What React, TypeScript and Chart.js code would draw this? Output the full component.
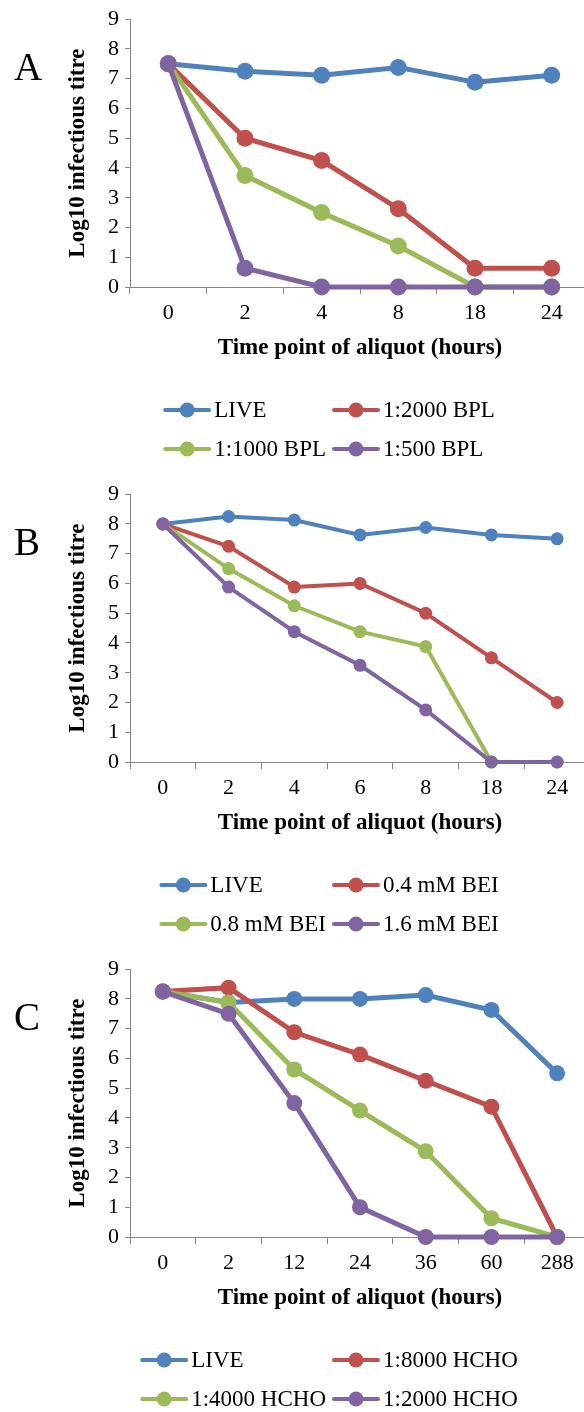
import React, { useEffect, useRef } from 'react';
import { Chart, registerables } from 'chart.js';

Chart.register(...registerables);

// ---------- DATA ----------
const seriesColors = ['#4F81BD', '#C0504D', '#9BBB59', '#8064A2'];
const yMin = 0;
const yMax = 9;

// Panel A (BPL)
const catsA = ['0', '2', '4', '8', '18', '24'];
const labelsA = ['LIVE', '1:2000 BPL', '1:1000 BPL', '1:500 BPL'];
const liveA = [7.5, 7.25, 7.12, 7.38, 6.88, 7.12];
const bpl2000A = [7.5, 5.0, 4.25, 2.63, 0.63, 0.63];
const bpl1000A = [7.5, 3.75, 2.5, 1.38, 0, 0];
const bpl500A = [7.5, 0.63, 0, 0, 0, 0];

// Panel B (BEI)
const catsB = ['0', '2', '4', '6', '8', '18', '24'];
const labelsB = ['LIVE', '0.4 mM BEI', '0.8 mM BEI', '1.6 mM BEI'];
const liveB = [8.0, 8.25, 8.13, 7.63, 7.88, 7.63, 7.5];
const bei04B = [8.0, 7.25, 5.88, 6.0, 5.0, 3.5, 2.0];
const bei08B = [8.0, 6.5, 5.25, 4.38, 3.88, 0, 0];
const bei16B = [8.0, 5.88, 4.38, 3.25, 1.75, 0, 0];

// Panel C (HCHO)
const catsC = ['0', '2', '12', '24', '36', '60', '288'];
const labelsC = ['LIVE', '1:8000 HCHO', '1:4000 HCHO', '1:2000 HCHO'];
const liveC = [8.25, 7.88, 8.0, 8.0, 8.13, 7.63, 5.5];
const hcho8000C = [8.25, 8.38, 6.88, 6.13, 5.25, 4.38, 0];
const hcho4000C = [8.25, 7.88, 5.63, 4.25, 2.88, 0.63, 0];
const hcho2000C = [8.25, 7.5, 4.5, 1.0, 0, 0, 0];

const yTitle = 'Log10 infectious titre';
const xTitle = 'Time point of aliquot (hours)';

// ---------- LAYOUT CONSTANTS ----------
const FONT = "'Liberation Serif', 'Times New Roman', serif";
const CANVAS_W = 600;
const CANVAS_H = 475;
const AREA_LEFT = 130;
const AREA_TOP = 16;
const AREA_BOTTOM = 287;
const AREA_RIGHT = 590;
const AXIS_GRAY = '#868686';

const decorPlugin = {
  id: 'panelDecor',
  afterDraw(chart: any, _args: any, opts: any) {
    const ctx = chart.ctx;
    ctx.save();
    // panel letter
    ctx.fillStyle = '#000';
    ctx.font = `39px ${FONT}`;
    ctx.textAlign = 'left';
    ctx.textBaseline = 'alphabetic';
    ctx.fillText(opts.letter, 14, 80);

    // legend (2 columns, Excel-like)
    const ds = chart.data.datasets;
    ctx.font = `23px ${FONT}`;
    const tw = (i: number) => ctx.measureText(ds[i].label).width;
    const symW = 48;
    const symGap = 3;
    const colGap = 6;
    const c1w = symW + symGap + Math.max(tw(0), tw(2));
    const c2w = symW + symGap + Math.max(tw(1), tw(3));
    const total = c1w + colGap + c2w;
    const x0 = 329 - total / 2;
    const x1 = x0 + c1w + colGap;
    const rows = [410, 449];
    const item = (i: number, x: number, y: number) => {
      const color = ds[i].borderColor;
      ctx.strokeStyle = color;
      ctx.lineWidth = 4;
      ctx.lineCap = 'round';
      ctx.beginPath();
      ctx.moveTo(x + 2, y);
      ctx.lineTo(x + symW - 2, y);
      ctx.stroke();
      ctx.fillStyle = color;
      ctx.beginPath();
      ctx.arc(x + symW / 2, y, 7.5, 0, Math.PI * 2);
      ctx.fill();
      ctx.fillStyle = '#000';
      ctx.textBaseline = 'middle';
      ctx.textAlign = 'left';
      ctx.fillText(ds[i].label, x + symW + symGap, y + 1);
    };
    item(0, x0, rows[0]);
    item(1, x1, rows[0]);
    item(2, x0, rows[1]);
    item(3, x1, rows[1]);
    ctx.restore();
  },
};

type PanelProps = {
  letter: string;
  top: number;
  cats: string[];
  labels: string[];
  series: number[][];
  lineWidth: number;
  radius: number;
};

function Panel({ letter, top, cats, labels, series, lineWidth, radius }: PanelProps) {
  const ref = useRef<HTMLCanvasElement | null>(null);
  useEffect(() => {
    if (!ref.current) return;
    const datasets = series.map((data, i) => ({
      label: labels[i],
      data,
      borderColor: seriesColors[i],
      backgroundColor: seriesColors[i],
      pointBackgroundColor: seriesColors[i],
      pointBorderColor: seriesColors[i],
      pointBorderWidth: 0,
      borderWidth: lineWidth,
      pointRadius: radius,
      tension: 0,
      clip: false as const,
      order: series.length - i,
    }));
    const chart = new Chart(ref.current, {
      type: 'line',
      data: { labels: cats, datasets },
      options: {
        animation: false,
        responsive: false,
        devicePixelRatio: 1,
        layout: { padding: { top: AREA_TOP, left: 0, right: CANVAS_W - AREA_RIGHT, bottom: 0 } },
        plugins: {
          legend: { display: false },
          tooltip: { enabled: false },
          panelDecor: { letter },
        } as any,
        scales: {
          x: {
            type: 'category',
            offset: true,
            grid: {
              display: true,
              offset: true,
              drawOnChartArea: false,
              drawTicks: true,
              tickLength: 7,
              color: AXIS_GRAY,
            },
            border: { display: true, color: AXIS_GRAY, width: 1 },
            ticks: {
              color: '#000',
              font: { family: FONT, size: 22 },
              padding: 6,
              maxRotation: 0,
              autoSkip: false,
            },
            title: {
              display: true,
              text: xTitle,
              color: '#000',
              font: { family: FONT, size: 23, weight: 'bold' },
              padding: { top: 0, bottom: CANVAS_H - 348 - 13.8 - AREA_BOTTOM + AREA_BOTTOM - (CANVAS_H - 475) },
            },
            afterFit: (scale: any) => {
              scale.height = CANVAS_H - AREA_BOTTOM;
            },
          },
          y: {
            min: yMin,
            max: yMax,
            grid: {
              display: true,
              drawOnChartArea: false,
              drawTicks: true,
              tickLength: 5,
              color: AXIS_GRAY,
            },
            border: { display: true, color: AXIS_GRAY, width: 1 },
            ticks: {
              stepSize: 1,
              color: '#000',
              font: { family: FONT, size: 22 },
              padding: 6,
            },
            title: {
              display: true,
              text: yTitle,
              color: '#000',
              font: { family: FONT, size: 23, weight: 'bold' },
              padding: { top: 64, bottom: 0 },
            },
            afterFit: (scale: any) => {
              scale.width = AREA_LEFT;
            },
          },
        },
      },
      plugins: [decorPlugin],
    });
    return () => chart.destroy();
  }, [letter, cats, labels, series, lineWidth, radius]);

  return (
    <canvas
      ref={ref}
      width={CANVAS_W}
      height={CANVAS_H}
      style={{ position: 'absolute', left: 0, top, width: CANVAS_W, height: CANVAS_H, display: 'block' }}
    />
  );
}

export default function App() {
  return (
    <div
      style={{
        position: 'absolute',
        left: 0,
        top: 0,
        width: 584,
        height: 1412,
        overflow: 'hidden',
        background: '#fff',
      }}
    >
      <Panel letter="A" top={0} cats={catsA} labels={labelsA} series={[liveA, bpl2000A, bpl1000A, bpl500A]} lineWidth={5} radius={8.5} />
      <Panel letter="B" top={475} cats={catsB} labels={labelsB} series={[liveB, bei04B, bei08B, bei16B]} lineWidth={4} radius={6.5} />
      <Panel letter="C" top={950} cats={catsC} labels={labelsC} series={[liveC, hcho8000C, hcho4000C, hcho2000C]} lineWidth={5} radius={8} />
    </div>
  );
}
